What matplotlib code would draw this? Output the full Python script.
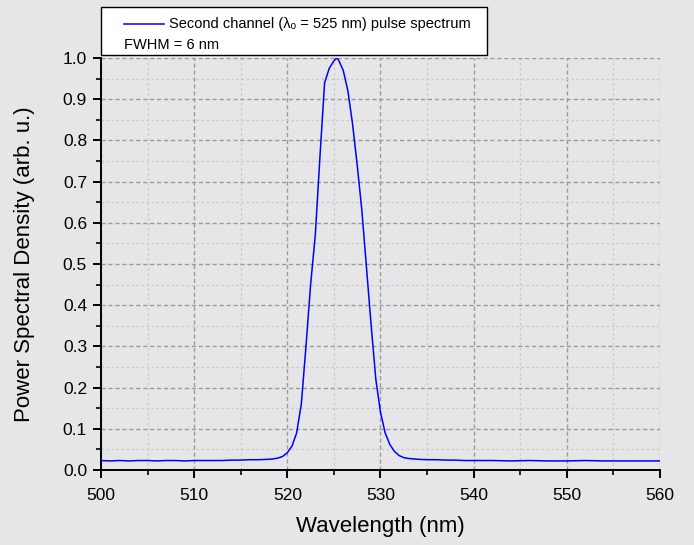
import matplotlib
matplotlib.use("Agg")
import matplotlib.pyplot as plt
from matplotlib.patches import Rectangle
from matplotlib.lines import Line2D
from matplotlib.ticker import MultipleLocator, FormatStrFormatter

# ---- data ----
wavelength = [500, 501, 502, 503, 504, 505, 506, 507, 508, 509, 510, 511, 512, 513,
              514, 515, 516, 517, 518, 518.5, 519, 519.5, 520, 520.5, 521, 521.5,
              522, 522.5, 523, 523.5, 524, 524.5, 525, 525.3, 525.5, 526, 526.5,
              527, 527.5, 528, 528.5, 529, 529.5, 530, 530.5, 531, 531.5, 532,
              532.5, 533, 534, 535, 536, 537, 538, 539, 540, 542, 544, 546, 548,
              550, 552, 554, 556, 558, 560]
psd = [0.023, 0.022, 0.023, 0.022, 0.023, 0.023, 0.022, 0.023, 0.023, 0.022, 0.023,
       0.023, 0.023, 0.023, 0.024, 0.024, 0.025, 0.025, 0.026, 0.027, 0.029, 0.033,
       0.042, 0.058, 0.090, 0.160, 0.300, 0.450, 0.570, 0.760, 0.940, 0.975, 0.993,
       1.000, 0.995, 0.970, 0.920, 0.840, 0.740, 0.630, 0.490, 0.350, 0.220, 0.140,
       0.090, 0.062, 0.045, 0.035, 0.030, 0.028, 0.026, 0.025, 0.025, 0.024, 0.024,
       0.023, 0.023, 0.023, 0.022, 0.023, 0.022, 0.022, 0.023, 0.022, 0.022, 0.022,
       0.022]

legend_label = "Second channel (λₒ = 525 nm) pulse spectrum"
note_label = "FWHM = 6 nm"
x_label = "Wavelength (nm)"
y_label = "Power Spectral Density (arb. u.)"

# ---- style ----
bg = "#e6e6e9"
plt.rcParams["font.family"] = ["Liberation Sans", "DejaVu Sans"]

fig = plt.figure(figsize=(6.94, 5.45), dpi=100, facecolor=bg)
ax = fig.add_axes([101 / 694, 1 - 470 / 545, (660 - 101) / 694, (470 - 58) / 545])
ax.set_facecolor(bg)

ax.plot(wavelength, psd, color="#0000ff", lw=1.1, zorder=3)

ax.set_xlim(500, 560)
ax.set_ylim(0, 1.0)
ax.xaxis.set_major_locator(MultipleLocator(10))
ax.xaxis.set_minor_locator(MultipleLocator(5))
ax.yaxis.set_major_locator(MultipleLocator(0.1))
ax.yaxis.set_minor_locator(MultipleLocator(0.05))
ax.yaxis.set_major_formatter(FormatStrFormatter("%.1f"))

ax.set_axisbelow(True)
ax.grid(which="major", color="#9a9a9a", lw=1.0, linestyle=(0, (3, 2)))
ax.grid(which="minor", color="#cacaca", lw=0.9, linestyle=(0, (2, 2)))

for s in ("top", "right"):
    ax.spines[s].set_visible(False)
for s in ("left", "bottom"):
    ax.spines[s].set_linewidth(1.4)
    ax.spines[s].set_color("black")

ax.tick_params(which="major", direction="out", length=6, width=1.4,
               labelsize=12.5, colors="black")
ax.tick_params(axis="y", which="major", pad=4)
ax.tick_params(axis="x", which="major", pad=7)
ax.tick_params(which="minor", direction="out", length=3.5, width=1.2)

ax.set_xlabel(x_label, fontsize=16, labelpad=9)
ax.set_ylabel(y_label, fontsize=16, labelpad=20)

# ---- legend box ----
fig.patches.append(Rectangle((101 / 694, 1 - 55 / 545), (487 - 101) / 694, 48 / 545,
                             transform=fig.transFigure, facecolor="white",
                             edgecolor="black", lw=1.0, zorder=5))
fig.lines.append(Line2D([124 / 694, 164 / 694], [1 - 24 / 545, 1 - 24 / 545],
                        transform=fig.transFigure, color="#0000ff", lw=1.1, zorder=6))
fig.text(169 / 694, 1 - 24 / 545, legend_label, fontsize=10.5, va="center",
         ha="left", zorder=6)
fig.text(124 / 694, 1 - 45 / 545, note_label, fontsize=10.5, va="center",
         ha="left", zorder=6)

fig.savefig("out.png", dpi=100, facecolor=bg)
